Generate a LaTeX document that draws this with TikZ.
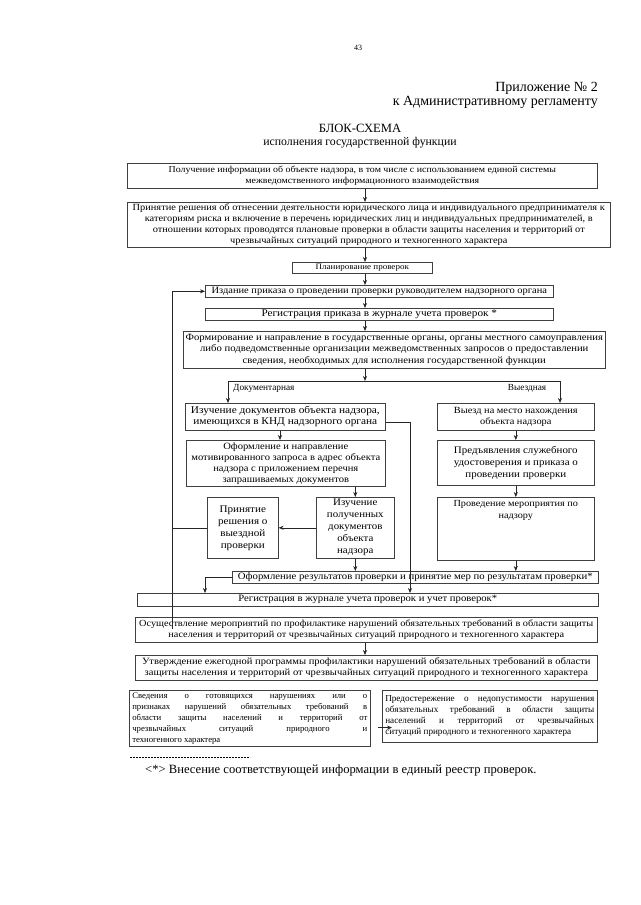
\documentclass[tikz,border=0pt]{standalone}
\usepackage{fontspec}
\setmainfont{Liberation Serif}
\newfontfamily\wf[FakeStretch=1.1]{Liberation Serif}
\newcommand\fz[2]{\wf\fontsize{#1}{#2}\selectfont}
\usetikzlibrary{arrows.meta,calc}
\tikzset{
  box/.style={draw=black!75, line width=0.6pt, anchor=north west, inner xsep=1pt, inner ysep=0pt, align=center, font=\fz{9.5}{10.8}},
  arr/.style={draw=black!85, line width=0.6pt, -{Stealth[length=5pt,width=4pt]}},
  ln/.style={draw=black!85, line width=0.6pt},
  lbl/.style={inner sep=0pt, font=\fontsize{9.3}{11}\selectfont},
  head/.style={inner sep=0pt, font=\fontsize{14}{16}\selectfont},
}
\begin{document}
\begin{tikzpicture}[x=1pt,y=-1pt]
\useasboundingbox (0,0) rectangle (640,905);
\fill[white] (0,0) rectangle (640,905);
% header
\node[inner sep=0pt, font=\fontsize{8}{9}\selectfont] (pg) at (358,48) {43};
\node[head, anchor=east] (h1) at (598,88) {Приложение № 2};
\node[head, anchor=east] (h2) at (598,102) {к Административному регламенту};
\node[head, font=\fontsize{12.6}{15}\selectfont] (t1) at (360,128) {БЛОК-СХЕМА};
\node[head, font=\fontsize{11.8}{15}\selectfont] (t2) at (360,143) {исполнения государственной функции};
\coordinate (cx) at (365,0);
\coordinate (lx) at (172,0);
\coordinate (rx) at (410,0);
\coordinate (mx) at (205,0);
\coordinate (dx) at (280,0);
% boxes
\node[box, font=\fz{9.0}{10.8}, minimum width=470, minimum height=25] (b1) at (127,163) {Получение информации об объекте надзора, в том числе с использованием единой системы\\межведомственного информационного взаимодействия};
\node[box, font=\fz{9.42}{10.8}, minimum width=483, minimum height=45] (b2) at (127,202) {Принятие решения об отнесении деятельности юридического лица и индивидуального предпринимателя к\\категориям риска и включение в перечень юридических лиц и индивидуальных предпринимателей, в\\отношении которых проводятся плановые проверки в области защиты населения и территорий от\\чрезвычайных ситуаций природного и техногенного характера};
\node[box, font=\fz{8.2}{10}, minimum width=140, minimum height=11] (b3) at (292,262) {Планирование проверок};
\node[box, font=\fz{9.5}{10}, minimum width=348, minimum height=12] (b4) at (205,285) {Издание приказа о проведении проверки руководителем надзорного органа};
\node[box, font=\fz{10.2}{10}, minimum width=348, minimum height=12] (b5) at (205,308) {Регистрация приказа в журнале учета проверок *};
\node[box, font=\fz{9.7}{11.6}, minimum width=422, minimum height=37] (b6) at (183,331) {Формирование и направление в государственные органы, органы местного самоуправления\\либо подведомственные организации межведомственных запросов о предоставлении\\сведения, необходимых для исполнения государственной функции};
\coordinate (brl) at (228,381);
\coordinate (brr) at (560,381);
\node[lbl, anchor=west] (ld) at (233,388) {Документарная};
\node[lbl] (lv) at (527,388) {Выездная};
\node[box, font=\fz{10.3}{11}, minimum width=200, minimum height=27] (b7) at (185,403) {Изучение документов объекта надзора,\\имеющихся в КНД надзорного органа};
\node[box, font=\fz{9.4}{11.5}, minimum width=157, minimum height=27] (b8) at (437,403) {Выезд на место нахождения\\объекта надзора};
\node[box, font=\fz{9.6}{11}, minimum width=199, minimum height=46] (b9) at (186,440) {Оформление и направление\\мотивированного запроса в адрес объекта\\надзора с приложением перечня\\запрашиваемых документов};
\node[box, font=\fz{9.95}{12}, minimum width=157, minimum height=45] (b10) at (437,440) {Предъявления служебного\\удостоверения и приказа о\\проведении проверки};
\node[box, font=\fz{10.1}{12}, minimum width=71, minimum height=61] (b11) at (207,497) {Принятие\\решения о\\выездной\\проверки};
\node[box, font=\fz{9.9}{12}, minimum width=78, minimum height=61] (b12) at (316,497) {Изучение\\полученных\\документов\\объекта\\надзора};
\node[box, font=\fz{9.3}{12}, minimum width=157, minimum height=63] (b13) at (437,497) {\parbox[t][56pt][t]{150pt}{\centering Проведение мероприятия по\\надзору}};
\node[box, font=\fz{9.75}{11}, minimum width=366, minimum height=12] (b14) at (232,571) {Оформление результатов проверки и принятие мер по результатам проверки*};
\node[box, font=\fz{9.7}{10.8}, minimum width=461, minimum height=13] (b15) at (137,593) {Регистрация в журнале учета проверок и учет проверок*};
\node[box, font=\fz{9.35}{10.8}, minimum width=462, minimum height=25] (b16) at (135,617) {Осуществление мероприятий по профилактике нарушений обязательных требований в области защиты\\населения и территорий от чрезвычайных ситуаций природного и техногенного характера};
\node[box, font=\fz{9.6}{10.8}, minimum width=462, minimum height=25] (b17) at (135,655) {Утверждение ежегодной программы профилактики нарушений обязательных требований в области\\защиты населения и территорий от чрезвычайных ситуаций природного и техногенного характера};
\node[box, inner xsep=3pt, font=\fontsize{8.7}{11}\selectfont, minimum width=241, minimum height=56, align=left] (b18) at (129,690) {\makebox[235pt][s]{Сведения о готовящихся нарушениях или о}\\\makebox[235pt][s]{признаках нарушений обязательных требований в}\\\makebox[235pt][s]{области защиты населений и территорий от}\\\makebox[235pt][s]{чрезвычайных ситуаций природного и}\\техногенного характера};
\node[box, inner xsep=3pt, font=\fontsize{9.15}{11}\selectfont, minimum width=215, minimum height=52, align=left] (b19) at (382,690) {\makebox[209pt][s]{Предостережение о недопустимости нарушения}\\\makebox[209pt][s]{обязательных требований в области защиты}\\\makebox[209pt][s]{населений и территорий от чрезвычайных}\\ситуаций природного и техногенного характера};
% connectors
\draw[arr] (b1.south -| cx) -- (b2.north -| cx);
\draw[arr] (b2.south -| cx) -- (b3.north -| cx);
\draw[arr] (b3.south -| cx) -- (b4.north -| cx);
\draw[arr] (b4.south -| cx) -- (b5.north -| cx);
\draw[arr] (b5.south -| cx) -- (b6.north -| cx);
\draw[arr] (b6.south -| cx) -- (brl -| cx);
\draw[ln] (brl) -- (brr);
\draw[arr] (brl) -- (b7.north -| brl);
\draw[arr] (brr) -- (b8.north -| brr);
\draw[arr] (b7.south -| dx) -- (b9.north -| dx);
\draw[arr] (b8.south) -- (b10.north);
\draw[arr] (b9.south -| b12.north) -- (b12.north);
\draw[arr] (b10.south) -- (b13.north);
\draw[arr] (b12.west) -- (b11.east);
\draw[ln] (b11.west) -- (b11.west -| lx);
\draw[arr] ($(b16.north -| lx)+(0,12)$) -- (b4.west -| lx) -- (b4.west);
\coordinate (b7r) at ($(b7.south east)+(0,-8)$);
\draw[arr] (b7r) -- (b7r -| rx) -- (b15.north -| rx);
\draw[arr] (b12.south) -- (b14.north -| b12.south);
\draw[arr] (b13.south) -- (b14.north -| b13.south);
\draw[arr] (b14.west) -- (b14.west -| mx) -- (b15.north -| mx);
\draw[arr] (b16.south -| cx) -- (b17.north -| cx);
\coordinate (sa) at ($(b19.south west)+(-4,-15)$);
\draw[arr] (sa) -- ++(14,0);
% footnote
\draw[line width=0.5pt, dash pattern=on 2pt off 1pt] (130,757) coordinate (fa) -- (250,757) coordinate (fb);
\node[anchor=west, inner sep=0pt, font=\fontsize{12.6}{14}\selectfont] (fn) at (145,770) {<*> Внесение соответствующей информации в единый реестр проверок.};
\end{tikzpicture}
\end{document}
